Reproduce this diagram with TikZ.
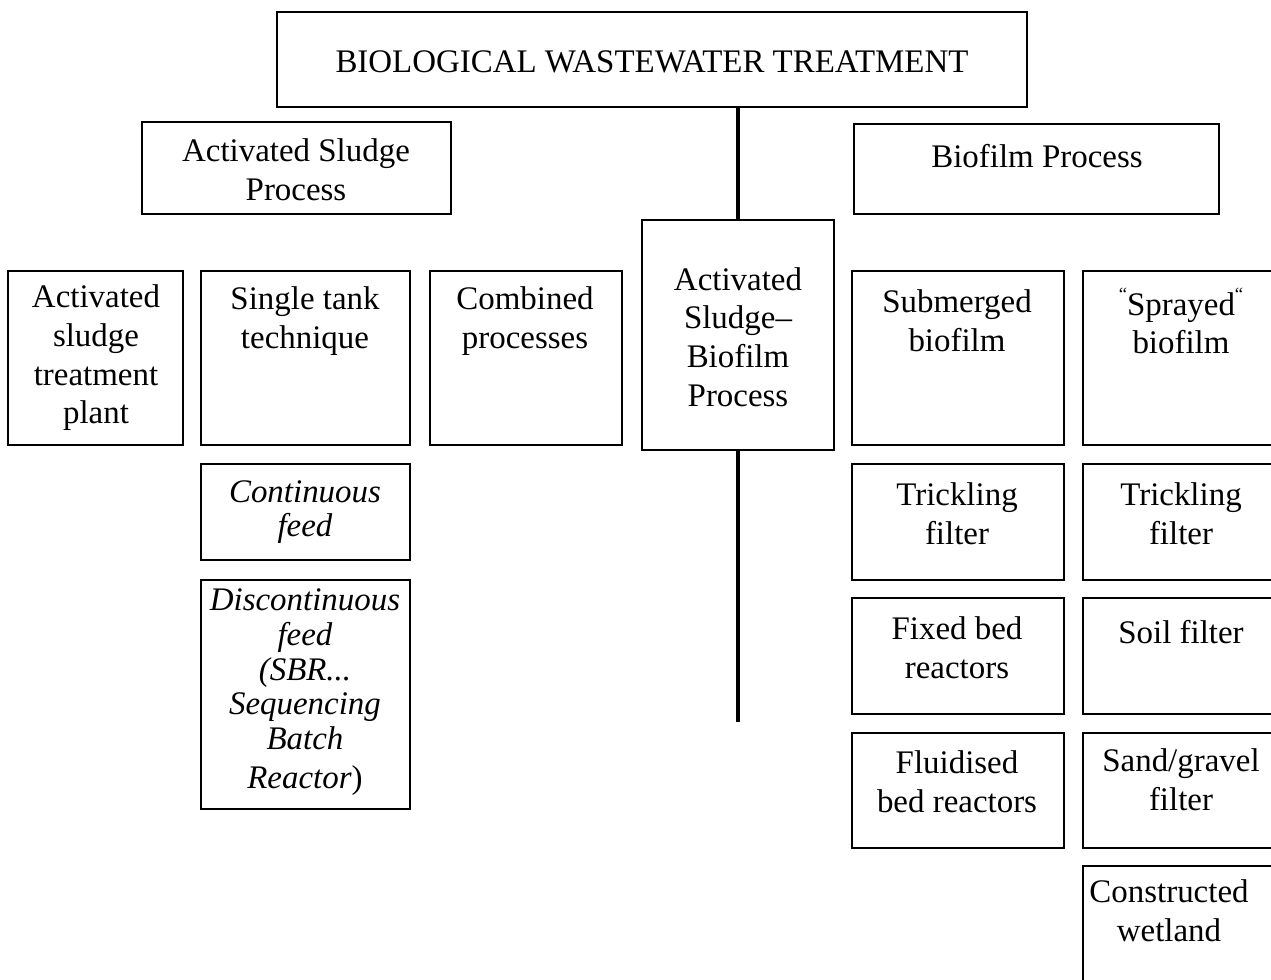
\documentclass[tikz,border=0pt]{standalone}
\usepackage{fontspec}
\setmainfont{Liberation Serif}
\usetikzlibrary{fit}
\begin{document}
\begin{tikzpicture}[x=0.75pt,y=-0.75pt,
  box/.style={draw, line width=1.3pt, inner sep=0pt},
  txt/.style={align=center, inner sep=0pt, font=\fontsize{24.7}{29}\selectfont},
  itx/.style={txt, font=\fontsize{24.7}{26}\selectfont\itshape},
  trunk/.style={line width=2.4pt}]
\useasboundingbox (0,0) rectangle (1271,979);
\fill[white] (0,0) rectangle (1271,979);
% boxes
\node[box, fit={(277,12)(1027,107)}] (title) {};
\node[box, fit={(142,122)(451,214)}] (asp) {};
\node[box, fit={(854,124)(1219,214)}] (bfp) {};
\node[box, fit={(642,220)(834,450)}] (asb) {};
\node[box, fit={(8,271)(183,445)}] (astp) {};
\node[box, fit={(201,271)(410,445)}] (stt) {};
\node[box, fit={(430,271)(622,445)}] (comb) {};
\node[box, fit={(852,271)(1064,445)}] (sub) {};
\node[box, fit={(1083,271)(1276,445)}] (spr) {};
\node[box, fit={(201,464)(410,560)}] (cont) {};
\node[box, fit={(201,580)(410,809)}] (disc) {};
\node[box, fit={(852,464)(1064,580)}] (tf1) {};
\node[box, fit={(1083,464)(1276,580)}] (tf2) {};
\node[box, fit={(852,598)(1064,714)}] (fbr) {};
\node[box, fit={(1083,598)(1276,714)}] (soil) {};
\node[box, fit={(852,733)(1064,848)}] (flu) {};
\node[box, fit={(1083,733)(1276,848)}] (sand) {};
\node[box, fit={(1083,866)(1276,990)}] (cw) {};
% texts
\node[txt] (t-title) at (652,62) {BIOLOGICAL WASTEWATER TREATMENT};
\node[txt] (t-asp) at (296,170) {Activated Sludge\\Process};
\node[txt] (t-bfp) at (1037,156) {Biofilm Process};
\node[txt] (t-asb) at (738,337) {Activated\\Sludge–\\Biofilm\\Process};
\node[txt] (t-astp) at (96,358) {Activated\\sludge\\treatment\\plant};
\node[txt] (t-stt) at (305,321) {Single tank\\technique};
\node[txt] (t-comb) at (525,321) {Combined\\processes};
\node[txt] (t-sub) at (957,321) {Submerged\\biofilm};
\node[txt] (t-spr) at (1181,321) {\raisebox{0.45em}{\fontsize{14}{14}\selectfont``}Sprayed\raisebox{0.45em}{\fontsize{14}{14}\selectfont``}\\biofilm};
\node[itx] (t-cont) at (305,512) {Continuous\\feed};
\node[itx] (t-disc) at (305,692) {Discontinuous\\feed\\(SBR...\\Sequencing\\Batch\\[3pt]Reactor\/\upshape)};
\node[txt] (t-tf1) at (957,514) {Trickling\\filter};
\node[txt] (t-tf2) at (1181,514) {Trickling\\filter};
\node[txt] (t-fbr) at (957,648) {Fixed bed\\reactors};
\node[txt] (t-soil) at (1181,632) {Soil filter};
\node[txt] (t-flu) at (957,782) {Fluidised\\bed reactors};
\node[txt] (t-sand) at (1181,780) {Sand/gravel\\filter};
\node[txt] (t-cw) at (1169,911) {Constructed\\wetland};
% trunk
\coordinate (trunkend) at (738,722);
\draw[trunk] (asb.north) -- (asb.north |- title.south);
\draw[trunk] (asb.south) -- (trunkend);
\end{tikzpicture}
\end{document}
